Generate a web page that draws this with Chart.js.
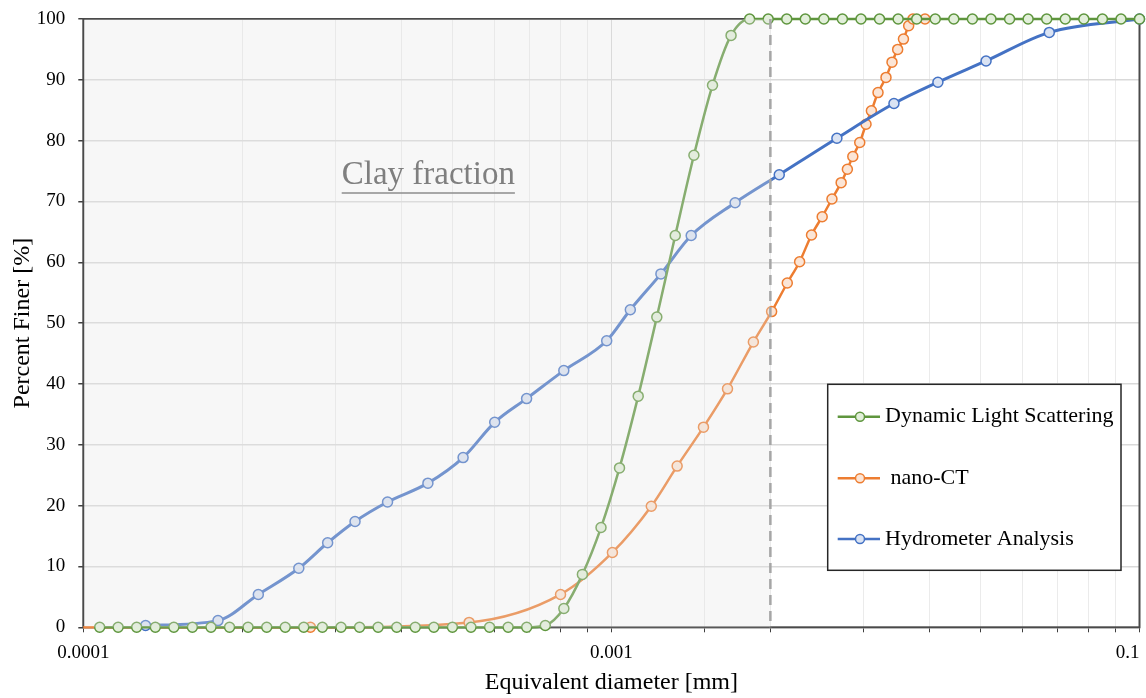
<!DOCTYPE html>
<html>
<head>
<meta charset="utf-8">
<title>Particle size distribution</title>
<script src="https://cdn.jsdelivr.net/npm/chart.js@4.4.1/dist/chart.umd.min.js"></script>
<style>
  html, body { margin: 0; padding: 0; background: #fff; }
  #chart { display: block; }
</style>
</head>
<body>
<canvas id="chart" width="1146" height="698"></canvas>
<script>
  // equivalent diameter [mm] and percent finer [%]
  const dlsDiameter = [
    0.0001074, 0.0001164, 0.0001262, 0.0001369, 0.0001484, 0.0001609, 0.0001745, 0.0001892,
    0.0002051, 0.0002225, 0.0002412, 0.0002615, 0.0002836, 0.0003076, 0.0003335, 0.0003616,
    0.0003922, 0.0004252, 0.0004611, 0.0005000, 0.0005421, 0.0005879, 0.0006375, 0.0006912,
    0.0007496, 0.0008128, 0.0008812, 0.0009557, 0.001036, 0.001124, 0.001219, 0.001321,
    0.001433, 0.001554, 0.001685, 0.001827, 0.001981, 0.002148, 0.002329, 0.002525,
    0.002738, 0.002969, 0.003219, 0.003491, 0.003785, 0.004104, 0.004450, 0.004826,
    0.005233, 0.005675, 0.006153, 0.006672, 0.007235, 0.007845, 0.008507, 0.009226, 0.01
  ];
  const dlsFiner = [
    0, 0, 0, 0, 0, 0, 0, 0,
    0, 0, 0, 0, 0, 0, 0, 0,
    0, 0, 0, 0, 0, 0, 0, 0,
    0.3, 3.1, 8.7, 16.4, 26.2, 38.0, 51.0, 64.4,
    77.6, 89.1, 97.3, 100, 100, 100, 100, 100,
    100, 100, 100, 100, 100, 100, 100, 100,
    100, 100, 100, 100, 100, 100, 100, 100, 100
  ];

  const ctDiameter = [
    0.0001, 0.0002692, 0.0005377, 0.0008011, 0.0010044, 0.001190, 0.001332, 0.001494,
    0.001659, 0.001857, 0.002011, 0.002153, 0.002272, 0.002393, 0.002507, 0.002616,
    0.002723, 0.002798, 0.002865, 0.002953, 0.003035, 0.003107, 0.003198, 0.003311,
    0.003399, 0.003484, 0.003573, 0.003655, 0.003724, 0.003925
  ];
  const ctFiner = [
    0, 0, 0.8, 5.4, 12.3, 19.9, 26.5, 32.9,
    39.2, 46.9, 51.9, 56.6, 60.1, 64.5, 67.5, 70.4,
    73.1, 75.3, 77.4, 79.7, 82.7, 84.9, 87.9, 90.4,
    92.9, 95.0, 96.7, 98.9, 100, 100
  ];

  const hydroDiameter = [
    0.0001312, 0.0001799, 0.0002145, 0.0002559, 0.0002902, 0.0003270, 0.0003768, 0.0004493,
    0.0005238, 0.0006012, 0.0006909, 0.0008126, 0.0009797, 0.001086, 0.001241, 0.001416,
    0.001715, 0.002079, 0.002673, 0.003428, 0.004152, 0.005122, 0.006748, 0.01
  ];
  const hydroFiner = [
    0.3, 1.1, 5.4, 9.7, 13.9, 17.4, 20.6, 23.7,
    27.9, 33.7, 37.6, 42.2, 47.1, 52.2, 58.1, 64.4,
    69.8, 74.4, 80.4, 86.1, 89.6, 93.1, 97.8, 100
  ];

  const seriesNames = ["Dynamic Light Scattering", " nano-CT", "Hydrometer Analysis"];
  const xTickValues = [0.0001, 0.001, 0.01];
  const xTickLabels = ["0.0001", "0.001", "0.1"];
  const yMin = 0;
  const yMax = 100;
  const yStep = 10;
  const clayLimit = 0.002;
  const clayLabel = "Clay fraction";

  const FONT = '"Liberation Serif", "Times New Roman", serif';
  const LINE_COLORS = ["#5f963e", "#ed7d31", "#4472c4"];
  const FILL_COLORS = ["#e2efda", "#fbe5d6", "#dae3f3"];

  window.addEventListener("load", main);

  function main() {
    Chart.defaults.font.family = FONT;
    Chart.defaults.color = "#000";

    let ctx = document.getElementById("chart").getContext("2d");
    new Chart(ctx, {
      type: "line",
      data: {
        // first dataset is drawn on top
        datasets: [
          makeSeries(seriesNames[0], dlsDiameter, dlsFiner, 0, 2.5),
          makeSeries(seriesNames[2], hydroDiameter, hydroFiner, 2, 3),
          makeSeries(seriesNames[1], ctDiameter, ctFiner, 1, 2.5)
        ]
      },
      options: {
        responsive: false,
        animation: false,
        events: [],
        layout: { padding: { top: 19, right: 4, bottom: 0, left: 0 } },
        plugins: {
          legend: { display: false },
          tooltip: { enabled: false }
        },
        scales: {
          x: {
            type: "logarithmic",
            min: xTickValues[0],
            max: xTickValues[xTickValues.length - 1],
            border: { display: false },
            grid: {
              color: function(c) { return isDecade(c.tick.value) ? "#d6d6d6" : "#ebebeb"; },
              lineWidth: 1,
              tickColor: "#404040",
              tickLength: 5
            },
            ticks: {
              autoSkip: false,
              maxRotation: 0,
              minRotation: 0,
              padding: 9,
              font: { size: 19 },
              callback: function(v) { return tickLabel(v); }
            },
            title: {
              display: true,
              text: "Equivalent diameter [mm]",
              font: { size: 24 },
              padding: { top: 0, bottom: 1 }
            },
            afterFit: function(scale) {
              scale.height = 70.7;
              scale.paddingLeft = 0;
              scale.paddingRight = 0;
            }
          },
          y: {
            min: yMin,
            max: yMax,
            border: { display: false },
            grid: {
              color: "#d9d9d9",
              lineWidth: 1.5,
              tickColor: "#404040",
              tickLength: 5
            },
            ticks: {
              stepSize: yStep,
              padding: 13,
              font: { size: 19 }
            },
            title: {
              display: true,
              text: "Percent Finer [%]",
              font: { size: 24 },
              padding: { top: 8.5, bottom: 0 }
            },
            afterFit: function(scale) {
              scale.width = 83.3;
              scale.paddingTop = 0;
              scale.paddingBottom = 0;
            }
          }
        }
      },
      plugins: [plotFrame, annotations]
    });
  }

  function makeSeries(name, xs, ys, colorIndex, width) {
    let pts = [];
    for (let i = 0; i < xs.length; i++) {
      pts.push({ x: xs[i], y: ys[i] });
    }
    return {
      label: name,
      data: pts,
      borderColor: LINE_COLORS[colorIndex],
      borderWidth: width,
      pointBackgroundColor: FILL_COLORS[colorIndex],
      pointBorderColor: LINE_COLORS[colorIndex],
      pointBorderWidth: 1.5,
      // the nano-CT curve enters from the axis without a marker
      pointRadius: function(c) { return (colorIndex === 1 && c.dataIndex === 0) ? 0 : 5; },
      cubicInterpolationMode: "monotone",
      clip: false
    };
  }

  function isDecade(v) {
    let e = Math.log10(v);
    return Math.abs(e - Math.round(e)) < 1e-6;
  }

  function tickLabel(v) {
    for (let i = 0; i < xTickValues.length; i++) {
      if (Math.abs(v - xTickValues[i]) / xTickValues[i] < 1e-6) {
        // the last label sits flush against the right edge in the original
        if (i === xTickValues.length - 1) {
          return xTickLabels[i] + "     ";
        }
        return xTickLabels[i];
      }
    }
    return "";
  }

  const plotFrame = {
    id: "plotFrame",
    beforeDatasetsDraw: function(chart) {
      let ctx = chart.ctx;
      let a = chart.chartArea;
      ctx.save();
      ctx.strokeStyle = "#4a4a4a";
      ctx.lineWidth = 2;
      ctx.strokeRect(a.left, a.top, a.right - a.left, a.bottom - a.top);
      ctx.restore();
    },
    afterDatasetsDraw: function(chart) {
      let ctx = chart.ctx;
      let a = chart.chartArea;
      let xc = chart.scales.x.getPixelForValue(clayLimit);
      ctx.save();
      // grey veil over the clay range
      ctx.fillStyle = "rgba(230, 230, 230, 0.3)";
      ctx.fillRect(a.left + 1, a.top, xc - a.left - 1, a.bottom - a.top);
      ctx.strokeStyle = "#a6a6a6";
      ctx.lineWidth = 2.5;
      ctx.setLineDash([10, 6]);
      ctx.beginPath();
      ctx.moveTo(xc, a.top);
      ctx.lineTo(xc, a.bottom);
      ctx.stroke();
      ctx.restore();
    }
  };

  const annotations = {
    id: "annotations",
    afterDraw: function(chart) {
      let ctx = chart.ctx;
      let a = chart.chartArea;
      ctx.save();

      // clay fraction label, underlined
      ctx.font = "33px " + FONT;
      ctx.fillStyle = "#7f7f7f";
      ctx.textAlign = "center";
      ctx.textBaseline = "alphabetic";
      let cx = a.left + 345;
      let cy = a.top + 165;
      ctx.fillText(clayLabel, cx, cy);
      let w = ctx.measureText(clayLabel).width;
      ctx.strokeStyle = "#8c8c8c";
      ctx.lineWidth = 1.5;
      ctx.beginPath();
      ctx.moveTo(cx - w / 2, cy + 9);
      ctx.lineTo(cx + w / 2, cy + 9);
      ctx.stroke();

      // legend box
      let bx = a.left + 744.4;
      let by = a.top + 365.3;
      let bw = 293.3;
      let bh = 186;
      ctx.fillStyle = "#fff";
      ctx.fillRect(bx, by, bw, bh);
      ctx.strokeStyle = "#262626";
      ctx.lineWidth = 1.5;
      ctx.strokeRect(bx, by, bw, bh);

      let order = [0, 1, 2];
      let rows = [32.4, 94, 154.7];
      ctx.font = "22px " + FONT;
      ctx.textAlign = "left";
      ctx.textBaseline = "middle";
      for (let i = 0; i < order.length; i++) {
        let ry = by + rows[i];
        ctx.strokeStyle = LINE_COLORS[order[i]];
        ctx.lineWidth = 2.5;
        ctx.beginPath();
        ctx.moveTo(bx + 10, ry);
        ctx.lineTo(bx + 52.3, ry);
        ctx.stroke();
        ctx.fillStyle = FILL_COLORS[order[i]];
        ctx.lineWidth = 1.5;
        ctx.beginPath();
        ctx.arc(bx + 32.3, ry, 4.5, 0, Math.PI * 2);
        ctx.fill();
        ctx.stroke();
        ctx.fillStyle = "#000";
        ctx.fillText(seriesNames[order[i]], bx + 57.3, ry);
      }
      ctx.restore();
    }
  };
</script>
</body>
</html>
